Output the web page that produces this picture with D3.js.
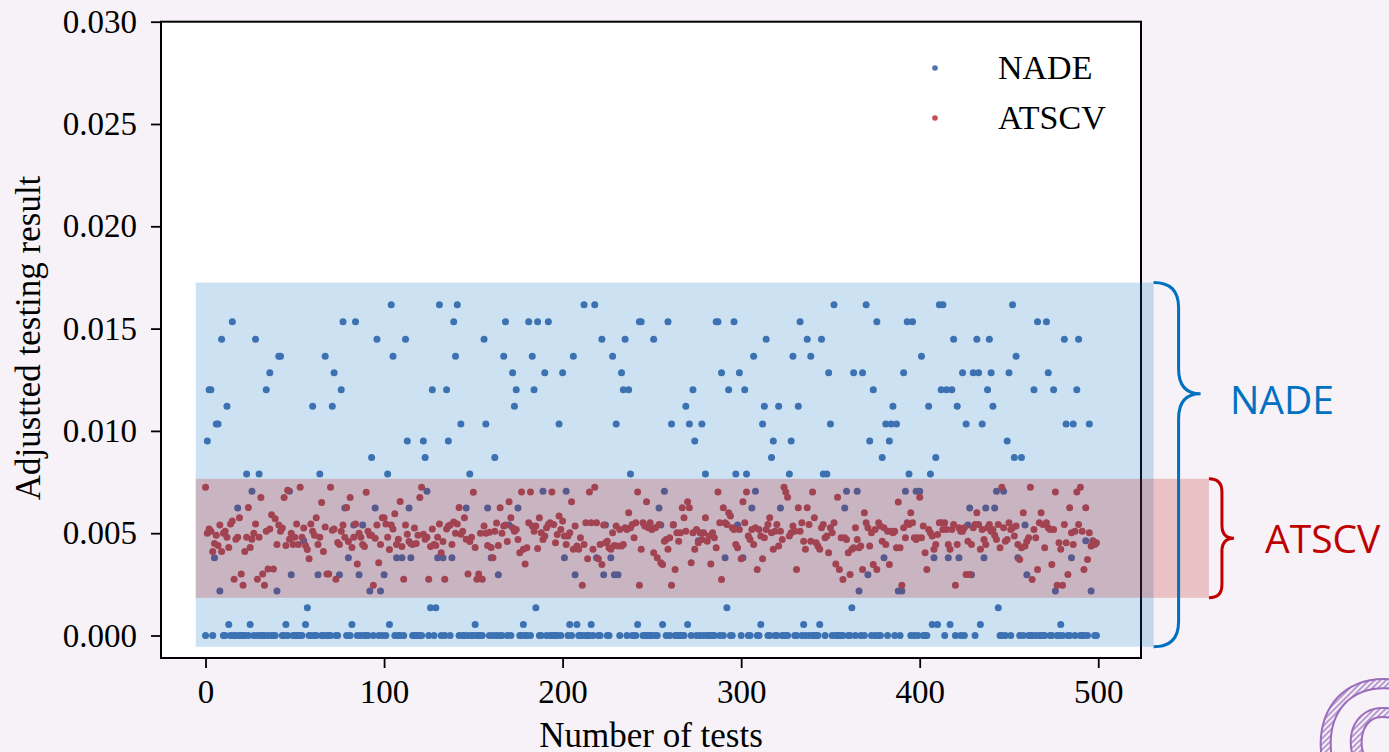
<!DOCTYPE html>
<meta charset="utf-8">
<body style="margin:0">
<script src="https://d3js.org/d3.v7.min.js"></script>
<script>
// tick labels
var xTicks = [0, 100, 200, 300, 400, 500];
var yTicks = [0, 0.005, 0.010, 0.015, 0.020, 0.025, 0.030];

// series names
var seriesNames = ["NADE", "ATSCV"];

// NADE adjusted testing result per test (index = test number)
var nade = [
  0,.00951,.01201,.01201,0,.0038,.01034,.01034,.00218,.01448,0,0,.0112,.00054,0,.01534,0,0,.00623,0,
  0,0,0,.00789,0,.00054,.00705,0,.01448,0,.00789,0,0,0,.01201,0,.01284,0,0,0,
  .00218,.01365,.01365,0,0,.00054,0,.00705,.00297,0,0,0,0,0,0,.00463,.00054,.00136,0,0,
  .0112,0,0,.00297,.00789,0,0,.01365,0,0,0,.0112,.01284,0,0,.00297,.01201,.01534,.00623,0,
  .0038,0,.00054,.0054,.01534,0,.00297,0,.0054,0,0,0,.00218,.0087,0,.00623,.01448,0,.00218,0,
  .00297,0,.00789,.00054,.01617,.01365,0,.0038,0,0,.0038,0,.01448,.00951,.00623,.0038,0,0,0,0,
  0,0,.00951,.0087,.00705,0,.00136,.01201,0,.00136,.0038,.01617,0,.0038,0,.01201,.00951,0,.0038,.01534,
  .01365,.01617,0,.01034,0,0,.00623,0,.00789,0,0,.00054,0,0,0,0,.01448,.01034,.00623,0,
  .0038,0,.0087,0,.00297,0,0,.01365,.01534,0,.0054,0,.01284,.0112,.01201,.00623,0,0,.00054,0,
  0,.01534,0,.01365,.01201,.00136,.01534,0,0,.00705,.01284,0,.01534,0,0,0,0,0,.01034,0,
  .01284,.0038,.00705,0,.00054,0,.01365,.00297,.00054,0,0,0,.01617,0,0,0,.00054,0,.01617,.0038,
  0,0,.01448,.00297,.0054,0,0,.0038,.01365,.00297,.01034,.00297,0,.01284,.01201,.01448,0,.01201,.00789,0,
  0,0,.00054,.01534,.01534,0,0,0,0,0,0,.01448,0,0,.00623,.0054,.00054,.00705,0,.01534,
  0,.01034,.0054,0,0,0,0,0,0,.0112,.00054,.01034,0,.01201,.00951,0,.00463,0,.01034,0,
  .00789,0,0,0,0,0,.01534,.01534,0,.01284,0,.0038,.00136,.01201,0,0,.01534,.00789,.0054,.01284,
  0,.0038,.01201,.00789,0,0,.00623,.01365,.00705,0,0,.00054,.01034,.0112,.01448,0,0,.0087,.00951,0,
  0,.0112,.00623,0,0,0,0,.00789,.00951,.01365,0,0,.0112,.01534,0,.00054,0,.01448,0,.01365,
  0,0,0,0,.00054,.01448,.00789,0,.00789,.01284,.01034,0,.01617,0,0,0,0,0,.00623,.00705,
  0,0,.00136,.01284,0,.00705,.00218,0,.01284,0,.01617,.00297,.00951,0,.01201,0,.01534,0,0,.0087,
  .0038,.01034,0,.00951,.01034,.0112,0,.01034,.00218,0,.00218,.01284,.00705,.01534,.00789,0,.01534,0,.00705,0,
  .00705,.01365,0,0,0,.0112,.00789,.00054,.0038,.0087,.00054,.01617,.01201,.01617,0,.01201,.0038,.00054,.01201,.01448,
  0,.0112,.0038,0,.01284,0,.01034,.0054,.00623,.00297,.01284,0,.01448,.01284,.00054,.01034,.0038,.00623,.01201,.01448,
  .01284,.0112,.00623,.00705,.00136,0,0,.00705,0,.00951,.01284,0,.01617,.0087,.01365,.0038,0,.0087,0,.0054,
  .00297,0,0,0,.01201,0,.01534,0,0,0,0,.01534,.01284,0,0,.01201,.00218,0,0,.00054,
  0,.01448,.01034,0,0,.0038,.01034,0,.01201,.01448,0,0,0,.00463,0,.01034,.00218,.00463,0,0
];

// ATSCV adjusted testing result per test
var atscv = [
  .00725,.005,.0052,.0051,.0041,.0045,.0049,.0044,.0054,.0041,.005,.0051,.0048,.0043,.00545,.0056,.00275,.0047,.0048,.00575,
  .003,.00245,.0041,.0048,.00625,.0043,.0047,.005,.00545,.00275,.0048,.00675,.003,.00245,.0051,.00325,.0052,.0059,.00325,.0057,
  .00445,.0054,.0051,.00525,.00675,.0044,.0071,.0047,.005,.00445,.0048,.00545,.00445,.00725,.0048,.00525,.0044,.0042,.00375,.00545,
  .0051,.0049,.00575,.00445,.0048,.0065,.0041,.0053,.003,.003,.00725,.00515,.0052,.00275,.00455,.00445,.0051,.0054,.0048,.00625,
  .0046,.00675,.0043,.0048,.00545,.0035,.005,.0048,.00445,.00435,.007,.0051,.0049,.0049,.00245,.00475,.0054,.00355,.00445,.00575,
  .00575,.00545,.0048,.0042,.0054,.0052,.00595,.00445,.0047,.00655,.00435,.00275,.0054,.00495,.0046,.0045,.00445,.00525,.0045,.0049,
  .00675,.00725,.00495,.0047,.0048,.00275,.00435,.0052,.00445,.0044,.0048,.00545,.00405,.0046,.00275,.0052,.00535,.0054,.00445,.00555,
  .005,.00545,.00625,.00495,.0051,.00575,.0047,.003,.0046,.0048,.007,.0043,.00275,.003,.005,.00275,.00535,.005,.0044,.00505,
  .0043,.0038,.0051,.0055,.0044,.00624,.005,.00535,.0054,.0046,.00654,.00575,.00527,.0051,.00518,.00469,.00404,.00701,.00421,.0035,
  .00429,.00551,.00701,.00535,.0051,.00535,.00425,.00575,.00502,.00469,.00486,.00527,.00543,.00551,.00701,.00543,.00453,.00494,.00584,.00518,
  .00559,.00486,.00445,.00486,.00502,.00654,.00421,.00535,.00437,.00421,.00478,.00246,.00445,.00551,.00375,.00701,.00551,.00421,.00725,.00551,
  .00375,.00445,.00347,.0054,.00453,.00461,.00429,.00421,.00502,.0044,.00535,.00437,.00518,.00437,.00445,.00527,.00518,.006,.00527,.00543,
  .00478,.00551,.00701,.00246,.00421,.00551,.00535,.00654,.00527,.00551,.00518,.00404,.00527,.0038,.00543,.00355,.00347,.00461,.00469,.00421,
  .00478,.00246,.00543,.00323,.00502,.00461,.00502,.00624,.00575,.0051,.00654,.00624,.00355,.00502,.00421,.00518,.00453,.00502,.00469,.00502,
  .00575,.00461,.00486,.0035,.00502,.00478,.00429,.00701,.00551,.00274,.00624,.00551,.00543,.006,.00584,.00527,.00518,.00445,.00429,.00518,
  .00375,.00654,.00551,.00701,.00486,.00469,.00518,.00445,.00527,.00323,.00518,.00486,.00375,.00478,.00518,.00543,.00575,.00502,.00421,.0051,
  .00543,.00437,.0051,.00469,.00725,.00701,.00676,.00486,.00502,.00535,.0051,.00323,.00624,.0051,.00551,.00461,.00421,.00624,.00543,.00461,
  .00701,.00575,.00453,.00437,.00421,.00527,.00543,.00478,.00486,.00404,.00527,.00502,.00551,.0035,.00676,.00323,.00478,.00274,.00478,.00469,
  .00404,.00298,.00421,.00429,.00527,.00469,.00429,.00437,.00323,.006,.00551,.00527,.00437,.00502,.00347,.00518,.00323,.00551,.00535,.00461,
  .00527,.00445,.0051,.00347,.0051,.00502,.0051,.00429,.00652,.00429,.00246,.00527,.00478,.00551,.00543,.006,.00551,.00478,.00469,.00478,
  .00676,.00478,.00535,.00404,.00323,.00518,.00502,.00486,.00421,.00445,.00494,.00551,.00551,.00518,.00551,.00518,.00445,.00421,.00518,.00543,
  .00246,.00445,.00527,.0051,.0051,.00527,.00298,.00461,.00298,.00445,.00527,.00543,.006,.00543,.00421,.00518,.00469,.00445,.00527,.00543,
  .0051,.00518,.0049,.00469,.00543,.00429,.00725,.00527,.00461,.00469,.00551,.00518,.00527,.00486,.00535,.00445,.00372,.00429,.006,.00437,
  .00461,.00478,.00725,.00274,.00518,.00478,.00323,.00551,.006,.00543,.00429,.00551,.00527,.00518,.00347,.00518,.00701,.00246,.00453,.00421,
  .00246,.00543,.00453,.00298,.00624,.00502,.00445,.0051,.00701,.00543,.00725,.0051,.00323,.00624,.00372,.00502,.00437,.00461,.00445,.00453
];

// highlighted bands (value ranges) added on top of the plot
var nadeBand = [-0.00055, 0.01725];
var atscvBand = [0.00184, 0.00766];

var width = 1389,
    height = 752;

var svg = d3.select("body").append("svg")
    .attr("width", width)
    .attr("height", height)
    .style("display", "block");

svg.append("rect")
    .attr("width", width)
    .attr("height", height)
    .attr("fill", "#f6f2f7");

var x = d3.scaleLinear().domain([-24.95, 523.95]).range([161, 1141]);
var y = d3.scaleLinear().domain([-0.0011, 0.030]).range([658, 21.7]);

var serif = "'Liberation Serif', 'Times New Roman', serif";

// axes background
svg.append("rect")
    .attr("x", 161).attr("y", 21.7)
    .attr("width", 980).attr("height", 658 - 21.7)
    .attr("fill", "#ffffff");

var colors = ["#4C72B0", "#C44E52"];

svg.append("g").selectAll("circle")
    .data(nade)
    .join("circle")
    .attr("cx", function(d, i) { return x(i); })
    .attr("cy", function(d) { return y(d); })
    .attr("r", 3.5)
    .attr("fill", colors[0]);

svg.append("g").selectAll("circle")
    .data(atscv)
    .join("circle")
    .attr("cx", function(d, i) { return x(i); })
    .attr("cy", function(d) { return y(d); })
    .attr("r", 3.5)
    .attr("fill", colors[1]);

// axes
var gx = svg.append("g")
    .attr("transform", "translate(0,658)")
    .call(d3.axisBottom(x).tickValues(xTicks).tickFormat(d3.format("d")).tickSize(10).tickSizeOuter(0).tickPadding(12));

var gy = svg.append("g")
    .attr("transform", "translate(161,0)")
    .call(d3.axisLeft(y).tickValues(yTicks).tickFormat(d3.format(".3f")).tickSize(10).tickSizeOuter(0).tickPadding(14));

[gx, gy].forEach(function(g) {
    g.select(".domain").remove();
    g.selectAll(".tick line").attr("stroke", "#000").attr("stroke-width", 1.8);
    g.selectAll(".tick text")
        .attr("fill", "#000")
        .style("font-family", serif)
        .style("font-size", "33px");
});

svg.append("rect")
    .attr("x", 161).attr("y", 21.7)
    .attr("width", 980).attr("height", 658 - 21.7)
    .attr("fill", "none")
    .attr("stroke", "#000")
    .attr("stroke-width", 2);

svg.append("text")
    .attr("x", 651).attr("y", 747)
    .attr("text-anchor", "middle")
    .style("font-family", serif)
    .style("font-size", "35px")
    .text("Number of tests");

svg.append("text")
    .attr("transform", "translate(40,338)rotate(-90)")
    .attr("text-anchor", "middle")
    .style("font-family", serif)
    .style("font-size", "35px")
    .text("Adjustted testing result");

// legend
var legend = svg.append("g").selectAll("g")
    .data(seriesNames)
    .join("g")
    .attr("transform", function(d, i) { return "translate(935," + (68 + i * 50) + ")"; });

legend.append("circle")
    .attr("r", 2.8)
    .attr("fill", function(d, i) { return colors[i]; });

legend.append("text")
    .attr("x", 63).attr("y", 11)
    .style("font-family", serif)
    .style("font-size", "34px")
    .text(function(d) { return d; });

// overlay bands
var bx0 = x(-5.5);

svg.append("rect")
    .attr("x", bx0).attr("y", y(nadeBand[1]))
    .attr("width", x(531) - bx0)
    .attr("height", y(nadeBand[0]) - y(nadeBand[1]))
    .attr("fill", "#0070C0")
    .attr("fill-opacity", 0.2);

svg.append("rect")
    .attr("x", bx0).attr("y", y(atscvBand[1]))
    .attr("width", x(562) - bx0)
    .attr("height", y(atscvBand[0]) - y(atscvBand[1]))
    .attr("fill", "#C00000")
    .attr("fill-opacity", 0.2);

// curly braces
function brace(x0, top, bottom, dx, tipDx, tipFrac) {
    var r = dx;
    var tipY = top + (bottom - top) * tipFrac;
    var p = d3.path();
    p.moveTo(x0, top);
    p.quadraticCurveTo(x0 + dx, top, x0 + dx, top + r);
    p.lineTo(x0 + dx, tipY - r);
    p.quadraticCurveTo(x0 + dx, tipY, x0 + dx + tipDx, tipY);
    p.quadraticCurveTo(x0 + dx, tipY, x0 + dx, tipY + r);
    p.lineTo(x0 + dx, bottom - r);
    p.quadraticCurveTo(x0 + dx, bottom, x0, bottom);
    return p.toString();
}

var bxN = x(531), bxA = x(562);

svg.append("path")
    .attr("d", brace(bxN, y(nadeBand[1]), y(nadeBand[0]), 25, 22, 0.305))
    .attr("fill", "none")
    .attr("stroke", "#0070C0")
    .attr("stroke-width", 3);

svg.append("path")
    .attr("d", brace(bxA, y(atscvBand[1]), y(atscvBand[0]), 13, 12, 0.5))
    .attr("fill", "none")
    .attr("stroke", "#C00000")
    .attr("stroke-width", 3);

svg.append("text")
    .attr("x", 1230).attr("y", 414)
    .attr("fill", "#0070C0")
    .style("font-family", "'Open Sans', 'Noto Sans', sans-serif")
    .style("font-size", "39px")
    .text("NADE");

svg.append("text")
    .attr("x", 1265).attr("y", 553)
    .attr("fill", "#C00000")
    .style("font-family", "'Open Sans', 'Noto Sans', sans-serif")
    .style("font-size", "39px")
    .text("ATSCV");

// watermark in the corner
var defs = svg.append("defs");
defs.append("pattern")
    .attr("id", "hatch")
    .attr("width", 4).attr("height", 4)
    .attr("patternUnits", "userSpaceOnUse")
    .attr("patternTransform", "rotate(45)")
    .append("rect")
    .attr("width", 2).attr("height", 4)
    .attr("fill", "#b89ad0");

svg.append("text")
    .attr("x", 1312).attr("y", 786)
    .attr("fill", "url(#hatch)")
    .attr("stroke", "#9b6cbc")
    .attr("stroke-width", 2)
    .style("font-family", "'Open Sans', sans-serif")
    .style("font-size", "150px")
    .text("@");
</script>
